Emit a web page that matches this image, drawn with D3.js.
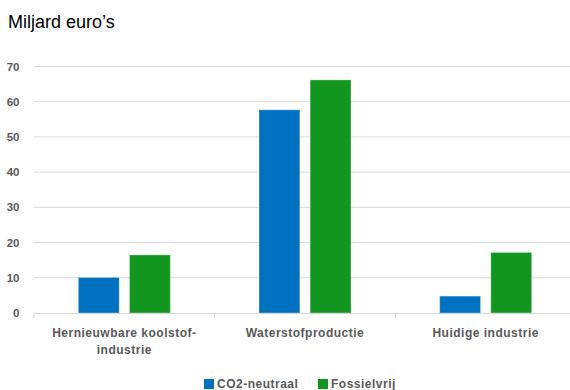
<!DOCTYPE html>
<html>
<head>
<meta charset="utf-8">
<script src="https://cdn.jsdelivr.net/npm/d3@7"></script>
<style>
  body { margin: 0; background: #fff; }
  svg { display: block; }
  .tick-label { font-family: "Liberation Sans", Arial, sans-serif; font-weight: bold; fill: #595959; }
</style>
</head>
<body>
<div id="chart"></div>
<script>
// Données
const categories = ["Hernieuwbare koolstof-\nindustrie", "Waterstofproductie", "Huidige industrie"];
const seriesNames = ["CO2-neutraal", "Fossielvrij"];
const co2Neutraal = [10.1, 57.7, 4.8];
const fossielvrij = [16.5, 66.2, 17.2];
const yTicks = [0, 10, 20, 30, 40, 50, 60, 70];
const colors = ["#0070C0", "#129620"];

const W = 570, H = 390;

const svg = d3.select("#chart").append("svg")
    .attr("width", W)
    .attr("height", H);

// Titre
svg.append("text")
    .attr("x", 8)
    .attr("y", 28)
    .style("font-family", "Liberation Sans, Arial, sans-serif")
    .style("font-size", "18px")
    .style("fill", "#000")
    .text("Miljard euro\u2019s");

// Échelles
const x = d3.scaleBand()
    .domain(categories)
    .range([34, 576])
    .paddingInner(0)
    .paddingOuter(0);

const y = d3.scaleLinear()
    .domain([0, 70])
    .range([313, 66.5]);

const xSub = d3.scaleBand()
    .domain(seriesNames)
    .range([0, 92])
    .paddingInner(0.2);

// Grille
svg.append("g")
    .selectAll("line")
    .data(yTicks.filter(d => d > 0))
    .enter()
    .append("line")
    .attr("x1", 34)
    .attr("x2", W)
    .attr("y1", d => y(d))
    .attr("y2", d => y(d))
    .attr("stroke", "#d9d9d9")
    .attr("stroke-width", 1);

// Labels axe Y
svg.append("g")
    .selectAll("text")
    .data(yTicks)
    .enter()
    .append("text")
    .attr("class", "tick-label")
    .attr("x", 19.5)
    .attr("y", d => y(d))
    .attr("dy", "0.35em")
    .attr("text-anchor", "end")
    .style("font-size", "11.5px")
    .text(d => d);

// Barres
const data = categories.map((c, i) => ({
    cat: c,
    values: [
        { name: seriesNames[0], value: co2Neutraal[i], color: colors[0] },
        { name: seriesNames[1], value: fossielvrij[i], color: colors[1] }
    ]
}));

const groups = svg.append("g")
    .selectAll("g")
    .data(data)
    .enter()
    .append("g")
    .attr("transform", d => `translate(${x(d.cat) + (x.bandwidth() - 92) / 2},0)`);

groups.selectAll("rect")
    .data(d => d.values)
    .enter()
    .append("rect")
    .attr("x", d => xSub(d.name))
    .attr("y", d => y(d.value))
    .attr("width", xSub.bandwidth())
    .attr("height", d => y(0) - y(d.value))
    .attr("fill", d => d.color)
    .attr("stroke", "rgba(255,255,255,0.35)")
    .attr("stroke-width", 1);

// Axe X
svg.append("line")
    .attr("x1", 34)
    .attr("x2", W)
    .attr("y1", y(0) + 0.5)
    .attr("y2", y(0) + 0.5)
    .attr("stroke", "#d9d9d9");

svg.append("g")
    .selectAll("line")
    .data(categories)
    .enter()
    .append("line")
    .attr("x1", d => x(d))
    .attr("x2", d => x(d))
    .attr("y1", y(0))
    .attr("y2", y(0) + 5)
    .attr("stroke", "#d9d9d9");

// Labels catégories
const catLabels = svg.append("g")
    .selectAll("text")
    .data(categories)
    .enter()
    .append("text")
    .attr("class", "tick-label")
    .attr("x", d => x(d) + x.bandwidth() / 2)
    .attr("y", 337)
    .attr("text-anchor", "middle")
    .style("font-size", "12px")
    .style("letter-spacing", "0.5px");

catLabels.each(function(d) {
    const lines = d.split("\n");
    d3.select(this).selectAll("tspan")
        .data(lines)
        .enter()
        .append("tspan")
        .attr("x", x(d) + x.bandwidth() / 2)
        .attr("dy", (l, i) => i === 0 ? 0 : 17)
        .text(l => l);
});

// Légende
const legend = svg.append("g")
    .attr("transform", "translate(204, 384)");

const legendX = [0, 114];
const legendItems = legend.selectAll("g")
    .data(seriesNames)
    .enter()
    .append("g")
    .attr("transform", (d, i) => `translate(${legendX[i]},0)`);

legendItems.append("rect")
    .attr("x", 0)
    .attr("y", -5)
    .attr("width", 10)
    .attr("height", 10)
    .attr("fill", (d, i) => colors[i]);

legendItems.append("text")
    .attr("class", "tick-label")
    .attr("x", 13)
    .attr("y", 0)
    .attr("dy", "0.35em")
    .style("font-size", "12px")
    .style("letter-spacing", "0.5px")
    .text(d => d);
</script>
</body>
</html>
